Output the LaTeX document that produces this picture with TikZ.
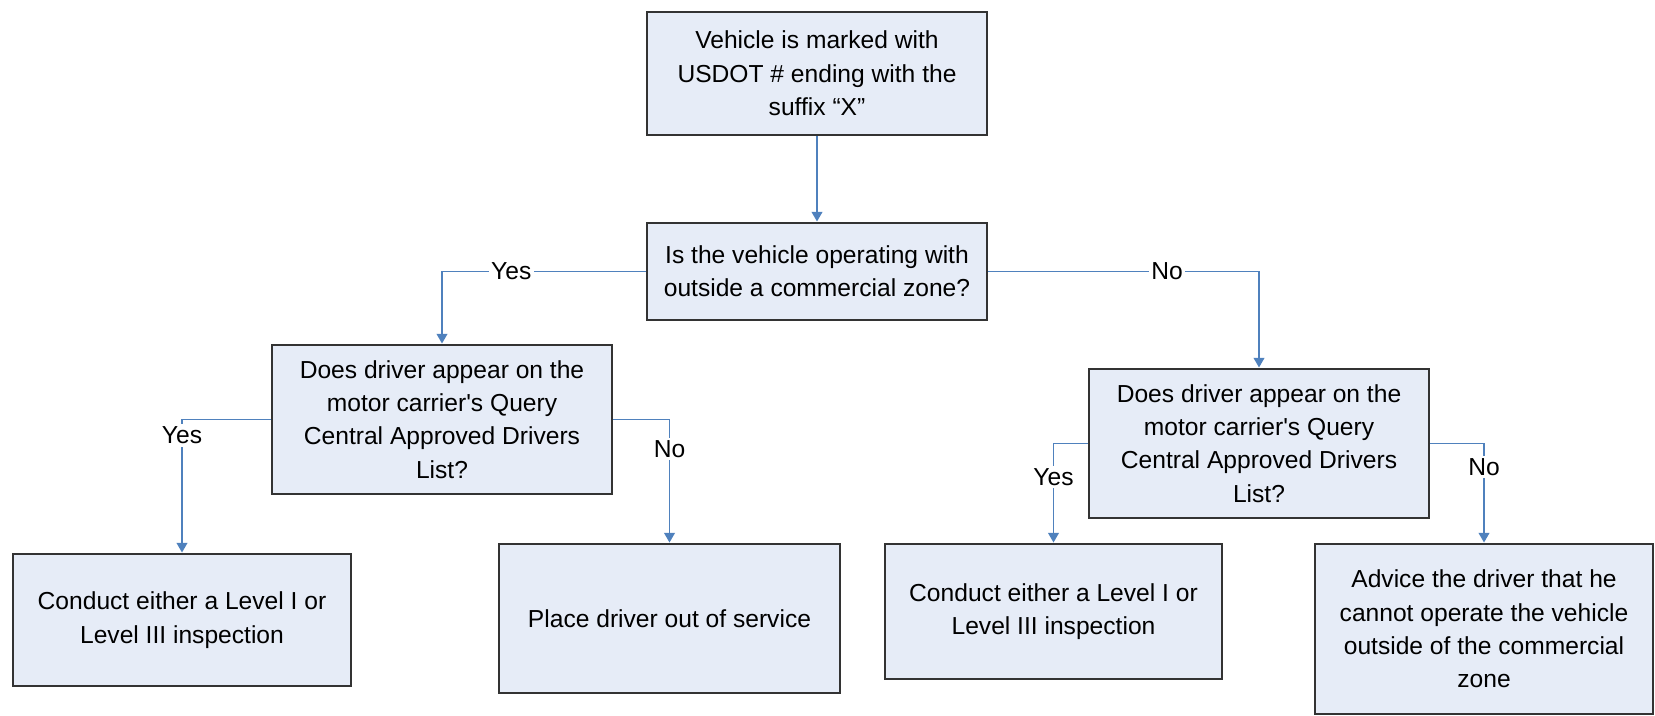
\documentclass[tikz,border=0pt]{standalone}
\usepackage{fontspec}
\setmainfont{Liberation Sans}
\usetikzlibrary{arrows.meta}
\definecolor{boxfill}{HTML}{E6ECF7}
\definecolor{linkblue}{HTML}{4F81BD}
\tikzset{
  box/.style={draw=black!80, line width=1.6pt, fill=boxfill, align=center,
    inner sep=0pt, font=\fontsize{14}{19}\selectfont},
  link/.style={draw=linkblue, line width=1.1pt, -{Triangle[width=6pt,length=5.5pt]}},
  answer/.style={fill=white, inner sep=1.5pt, font=\fontsize{14}{17}\selectfont}
}
\begin{document}
\begin{tikzpicture}[x=0.2mm, y=-0.2mm]
      \useasboundingbox (0,0) rectangle (1655,716);
      \node[box, minimum width=68mm, minimum height=24.6mm] (top) at (817,73.5)
        {Vehicle is marked with\\USDOT \# ending with the\\suffix “X”};
      \node[box, minimum width=68mm, minimum height=19.4mm] (q1) at (817,271.5)
        {Is the vehicle operating with\\outside a commercial zone?};
      \node[box, minimum width=68mm, minimum height=29.8mm] (qL) at (442,419.5)
        {Does driver appear on the\\motor carrier\textquotesingle s Query\\Central Approved Drivers\\List?};
      \node[box, minimum width=68mm, minimum height=29.8mm] (qR) at (1259,443.5)
        {Does driver appear on the\\motor carrier\textquotesingle s Query\\Central Approved Drivers\\List?};
      \node[box, minimum width=67.6mm, minimum height=26.4mm] (aLL) at (182,620)
        {Conduct either a Level I or\\Level III inspection};
      \node[box, minimum width=68.2mm, minimum height=29.8mm] (aLR) at (669.5,618.5)
        {Place driver out of service};
      \node[box, minimum width=67.4mm, minimum height=27mm] (aRL) at (1053.5,611.5)
        {Conduct either a Level I or\\Level III inspection};
      \node[box, minimum width=67.6mm, minimum height=34mm] (aRR) at (1484,629)
        {Advice the driver that he\\cannot operate the vehicle\\outside of the commercial\\zone};
      \begin{scope}[link]
        \draw (top.south) -- (q1.north);
        \draw (q1.west) -| node[answer, pos=0.33] {Yes} (qL.north);
        \draw (q1.east) -| node[answer, pos=0.33] {No} (qR.north);
        \draw (qL.west) -| node[answer, pos=0.56] {Yes} (aLL.north);
        \draw (qL.east) -| node[answer, pos=0.62] {No} (aLR.north);
        \draw (qR.west) -| node[answer, pos=0.67] {Yes} (aRL.north);
        \draw (qR.east) -| node[answer, pos=0.62] {No} (aRR.north);
      \end{scope}
    \end{tikzpicture}
\end{document}
